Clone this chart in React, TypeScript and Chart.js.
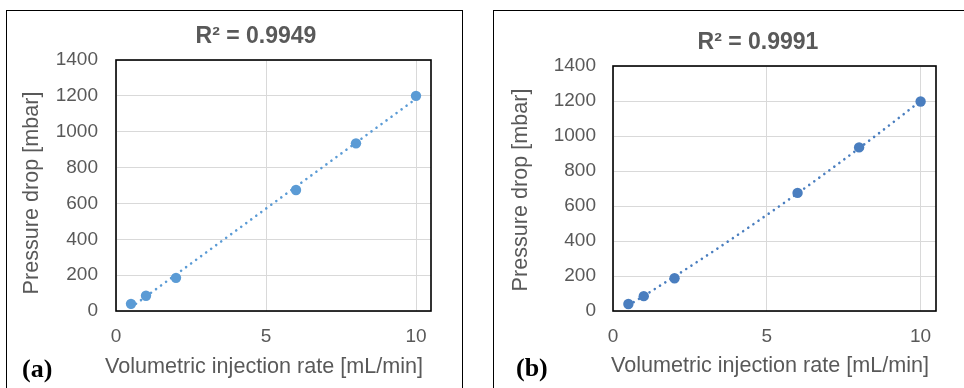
import React, { useEffect, useRef } from 'react';
import { Chart, registerables } from 'chart.js';

Chart.register(...registerables);

// ---------- data ----------
const flowRates = [0.5, 1, 2, 6, 8, 10];
const pressureA = [40, 85, 185, 675, 935, 1200];
const pressureB = [40, 85, 187, 675, 935, 1197];
const titleA = 'R² = 0.9949';
const titleB = 'R² = 0.9991';
const labelA = '(a)';
const labelB = '(b)';
const xAxisTitle = 'Volumetric injection rate [mL/min]';
const yAxisTitle = 'Pressure drop [mbar]';
const xTickValues = [0, 5, 10];
const xTickLabels = ['0', '5', '10'];
const yTickValues = [0, 200, 400, 600, 800, 1000, 1200, 1400];
const yTickLabels = ['0', '200', '400', '600', '800', '1000', '1200', '1400'];
const colorA = '#5B9BD5';
const colorB = '#4A7EBF';
const trendDegreeA = 1; // linear trendline
const trendDegreeB = 2; // polynomial trendline

// least-squares polynomial fit (Excel-style trendline)
function polyFit(xs: number[], ys: number[], degree: number): number[] {
  const n = degree + 1;
  const A: number[][] = [];
  for (let r = 0; r < n; r++) {
    const row: number[] = [];
    for (let c = 0; c < n; c++) row.push(xs.reduce((s, x) => s + Math.pow(x, r + c), 0));
    row.push(xs.reduce((s, x, i) => s + ys[i] * Math.pow(x, r), 0));
    A.push(row);
  }
  for (let i = 0; i < n; i++) {
    let p = i;
    for (let k = i + 1; k < n; k++) if (Math.abs(A[k][i]) > Math.abs(A[p][i])) p = k;
    const tmp = A[i]; A[i] = A[p]; A[p] = tmp;
    for (let k = i + 1; k < n; k++) {
      const f = A[k][i] / A[i][i];
      for (let j = i; j <= n; j++) A[k][j] -= f * A[i][j];
    }
  }
  const coef = new Array(n).fill(0);
  for (let i = n - 1; i >= 0; i--) {
    let s = A[i][n];
    for (let j = i + 1; j < n; j++) s -= A[i][j] * coef[j];
    coef[i] = s / A[i][i];
  }
  return coef;
}

function trendPoints(xs: number[], ys: number[], degree: number) {
  const coef = polyFit(xs, ys, degree);
  const x0 = Math.min(...xs);
  const x1 = Math.max(...xs);
  const steps = degree === 1 ? 1 : 40;
  const pts: { x: number; y: number }[] = [];
  for (let i = 0; i <= steps; i++) {
    const x = x0 + ((x1 - x0) * i) / steps;
    const y = coef.reduce((s, c, k) => s + c * Math.pow(x, k), 0);
    pts.push({ x, y });
  }
  return pts;
}

const FONT = "'Liberation Sans', Arial, sans-serif";
const TEXT = '#595959';

const framePlugin = {
  id: 'plotFrame',
  afterDatasetsDraw(chart: any) {
    const { ctx, chartArea } = chart;
    const { left, top, right, bottom } = chartArea;
    ctx.save();
    ctx.strokeStyle = '#000000';
    ctx.lineWidth = 1.6;
    ctx.strokeRect(left, top, right - left, bottom - top);
    ctx.restore();
  },
};

// chart title and axis titles, placed where the reference puts them
const panelTextPlugin = {
  id: 'panelText',
  afterDraw(chart: any, _args: any, o: any) {
    if (!o || !o.title) return;
    const { ctx } = chart;
    ctx.save();
    ctx.fillStyle = o.color;
    ctx.textAlign = 'center';
    ctx.textBaseline = 'middle';
    ctx.font = `bold ${o.titleSize}px ${FONT}`;
    ctx.fillText(o.title, o.titleX, o.titleY);
    ctx.font = `${o.axisSize}px ${FONT}`;
    ctx.fillText(o.xText, o.xX, o.xY);
    ctx.translate(o.yX, o.yY);
    ctx.rotate(-Math.PI / 2);
    ctx.fillText(o.yText, 0, 0);
    ctx.restore();
  },
};

type PanelProps = {
  ys: number[];
  title: string;
  color: string;
  degree: number;
  yAxisWidth: number;
  padRight: number;
  padTop: number;
  titleX: number;
  titleY: number;
  xTitleX: number;
  xTitleY: number;
  yTitleX: number;
  yTitleY: number;
  yTickPad: number;
};

function Panel(p: PanelProps) {
  const ref = useRef<HTMLCanvasElement | null>(null);
  useEffect(() => {
    if (!ref.current) return;
    const points = flowRates.map((x, i) => ({ x, y: p.ys[i] }));
    const chart = new Chart(ref.current, {
      type: 'scatter',
      data: {
        datasets: [
          {
            label: 'trend',
            data: trendPoints(flowRates, p.ys, p.degree),
            showLine: true,
            borderColor: p.color,
            borderWidth: 2.6,
            borderDash: [0.01, 6.2],
            borderCapStyle: 'round',
            pointRadius: 0,
            fill: false,
            tension: 0,
            order: 2,
          } as any,
          {
            label: 'data',
            data: points,
            pointRadius: 5.2,
            pointBackgroundColor: p.color,
            pointBorderWidth: 0,
            backgroundColor: p.color,
            borderColor: p.color,
            order: 1,
          } as any,
        ],
      },
      options: {
        responsive: false,
        animation: false,
        devicePixelRatio: 1,
        layout: { padding: { left: 0, right: p.padRight, top: p.padTop, bottom: 0 } },
        plugins: {
          legend: { display: false },
          tooltip: { enabled: false },
          title: { display: false },
          panelText: {
            color: TEXT,
            title: p.title,
            titleSize: 23,
            titleX: p.titleX,
            titleY: p.titleY,
            axisSize: 21.6,
            xText: xAxisTitle,
            xX: p.xTitleX,
            xY: p.xTitleY,
            yText: yAxisTitle,
            yX: p.yTitleX,
            yY: p.yTitleY,
          },
        },
        scales: {
          x: {
            type: 'linear',
            min: 0,
            max: 10.5,
            afterBuildTicks: (scale: any) => {
              scale.ticks = xTickValues.map((v) => ({ value: v }));
            },
            afterFit: (scale: any) => {
              scale.height = 77;
            },
            ticks: {
              color: TEXT,
              font: { family: FONT, size: 19 },
              padding: 14,
              maxRotation: 0,
              callback: (_v: any, i: number) => xTickLabels[i],
            },
            grid: { color: '#D9D9D9', lineWidth: 1, drawTicks: false },
            border: { display: false },
            title: { display: false },
          },
          y: {
            type: 'linear',
            min: 0,
            max: 1400,
            afterBuildTicks: (scale: any) => {
              scale.ticks = yTickValues.map((v) => ({ value: v }));
            },
            afterFit: (scale: any) => {
              scale.width = p.yAxisWidth;
            },
            ticks: {
              color: TEXT,
              font: { family: FONT, size: 19 },
              padding: p.yTickPad,
              callback: (_v: any, i: number) => yTickLabels[i],
            },
            grid: { color: '#D9D9D9', lineWidth: 1, drawTicks: false },
            border: { display: false },
            title: { display: false },
          },
        },
      } as any,
      plugins: [framePlugin, panelTextPlugin],
    });
    return () => chart.destroy();
  }, []);
  return <canvas ref={ref} width={480} height={388} style={{ width: 480, height: 388, display: 'block' }} />;
}

export default function App() {
  return (
    <div
      style={{
        position: 'absolute',
        left: 0,
        top: 0,
        width: 964,
        height: 388,
        background: '#ffffff',
        overflow: 'hidden',
      }}
    >
      <div style={{ position: 'absolute', left: 0, top: 0 }}>
        <Panel
          ys={pressureA}
          title={titleA}
          color={colorA}
          degree={trendDegreeA}
          yAxisWidth={116}
          padRight={49}
          padTop={60}
          titleX={256}
          titleY={37}
          xTitleX={264}
          xTitleY={367.5}
          yTitleX={32}
          yTitleY={193}
          yTickPad={18}
        />
      </div>
      <div style={{ position: 'absolute', left: 484, top: 0 }}>
        <Panel
          ys={pressureB}
          title={titleB}
          color={colorB}
          degree={trendDegreeB}
          yAxisWidth={129}
          padRight={28}
          padTop={66}
          titleX={274}
          titleY={43}
          xTitleX={286}
          xTitleY={366}
          yTitleX={37}
          yTitleY={190}
          yTickPad={17}
        />
      </div>
      <div
        style={{
          position: 'absolute',
          left: 6,
          top: 10,
          width: 457,
          height: 420,
          border: '1px solid #000',
          boxSizing: 'border-box',
        }}
      />
      <div
        style={{
          position: 'absolute',
          left: 493,
          top: 10,
          width: 520,
          height: 420,
          border: '1px solid #000',
          boxSizing: 'border-box',
        }}
      />
      <div
        style={{
          position: 'absolute',
          left: 22,
          top: 354,
          fontFamily: "'Liberation Serif', 'Times New Roman', serif",
          fontWeight: 'bold',
          fontSize: 26,
          lineHeight: '30px',
          color: '#000',
          whiteSpace: 'nowrap',
        }}
      >
        {labelA}
      </div>
      <div
        style={{
          position: 'absolute',
          left: 516,
          top: 353,
          fontFamily: "'Liberation Serif', 'Times New Roman', serif",
          fontWeight: 'bold',
          fontSize: 26,
          lineHeight: '30px',
          color: '#000',
          whiteSpace: 'nowrap',
        }}
      >
        {labelB}
      </div>
    </div>
  );
}
